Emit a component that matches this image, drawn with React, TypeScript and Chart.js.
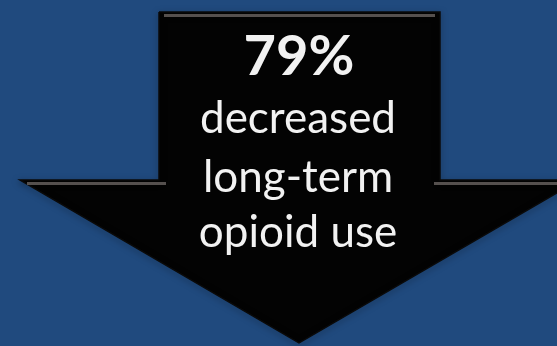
import React, { useEffect, useRef } from "react";
import { Chart, registerables } from "chart.js";

Chart.register(...registerables);

// Infographic content
const statValue = "79%";
const labelLines = ["decreased", "long-term", "opioid use"];

// Arrow outline in plot units (x: 0..557 across, y: 0..346 downward)
const arrowX = [159, 440, 440, 579, 299, 20, 159, 159];
const arrowY = [12, 12, 180, 180, 343, 180, 180, 12];

// Bevel highlight segments along the top edges (null breaks the line)
const bevelX = [164, 435, null, 27, 166, null, 434, 579];
const bevelY = [15.5, 15.5, null, 183.5, 183.5, null, 183.5, 183.5];

// Text anchor positions (baselines) in plot units
const textX = 299;
const statBaseline = 75;
const labelBaselines = [133, 192, 247];

const BG = "#204a7e";

const textPlugin = {
  id: "arrowText",
  afterDatasetsDraw(chart: any) {
    const { ctx, scales } = chart;
    const xs = scales.x;
    const ys = scales.y;
    ctx.save();
    ctx.fillStyle = "#f2f2f2";
    ctx.textAlign = "center";
    ctx.textBaseline = "alphabetic";
    ctx.font = "bold 56px Lato, 'Open Sans', sans-serif";
    ctx.fillText(statValue, xs.getPixelForValue(textX), ys.getPixelForValue(statBaseline));
    ctx.font = "44px Lato, 'Open Sans', sans-serif";
    labelLines.forEach((line, i) => {
      ctx.fillText(line, xs.getPixelForValue(textX - 1), ys.getPixelForValue(labelBaselines[i]));
    });
    ctx.restore();
  },
};

const bgPlugin = {
  id: "bg",
  beforeDraw(chart: any) {
    const { ctx, width, height } = chart;
    ctx.save();
    ctx.fillStyle = BG;
    ctx.fillRect(0, 0, width, height);
    ctx.restore();
  },
};

const shadowPlugin = {
  id: "shadow",
  beforeDatasetDraw(chart: any, args: any) {
    if (args.index === 0) {
      chart.ctx.save();
      chart.ctx.shadowColor = "rgba(0,0,0,0.55)";
      chart.ctx.shadowBlur = 6;
      chart.ctx.shadowOffsetY = 2;
    }
  },
  afterDatasetDraw(chart: any, args: any) {
    if (args.index === 0) chart.ctx.restore();
  },
};

export default function App() {
  const ref = useRef<HTMLCanvasElement | null>(null);
  useEffect(() => {
    if (!ref.current) return;
    const chart = new Chart(ref.current, {
      type: "scatter",
      data: {
        datasets: [
          {
            data: arrowX.map((x, i) => ({ x, y: arrowY[i] })),
            showLine: true,
            fill: "shape",
            backgroundColor: "#030303",
            borderColor: "#0a0a0a",
            borderWidth: 1.5,
            pointRadius: 0,
            tension: 0,
            order: 2,
          },
          {
            data: bevelX.map((x, i) => ({ x, y: bevelY[i] })) as any,
            showLine: true,
            spanGaps: false,
            fill: false,
            borderColor: "rgba(100,94,92,0.85)",
            borderWidth: 3,
            pointRadius: 0,
            order: 1,
          },
        ],
      },
      options: {
        animation: false,
        responsive: true,
        maintainAspectRatio: false,
        layout: { padding: 0 },
        plugins: { legend: { display: false }, tooltip: { enabled: false } },
        scales: {
          x: { type: "linear", min: 0, max: 557, display: false },
          y: { type: "linear", min: 0, max: 346, reverse: true, display: false },
        },
      },
      plugins: [bgPlugin, shadowPlugin, textPlugin],
    });
    return () => chart.destroy();
  }, []);
  return (
    <div style={{ position: "fixed", left: 0, top: 0, width: 557, height: 346, background: BG }}>
      <canvas ref={ref} />
    </div>
  );
}
